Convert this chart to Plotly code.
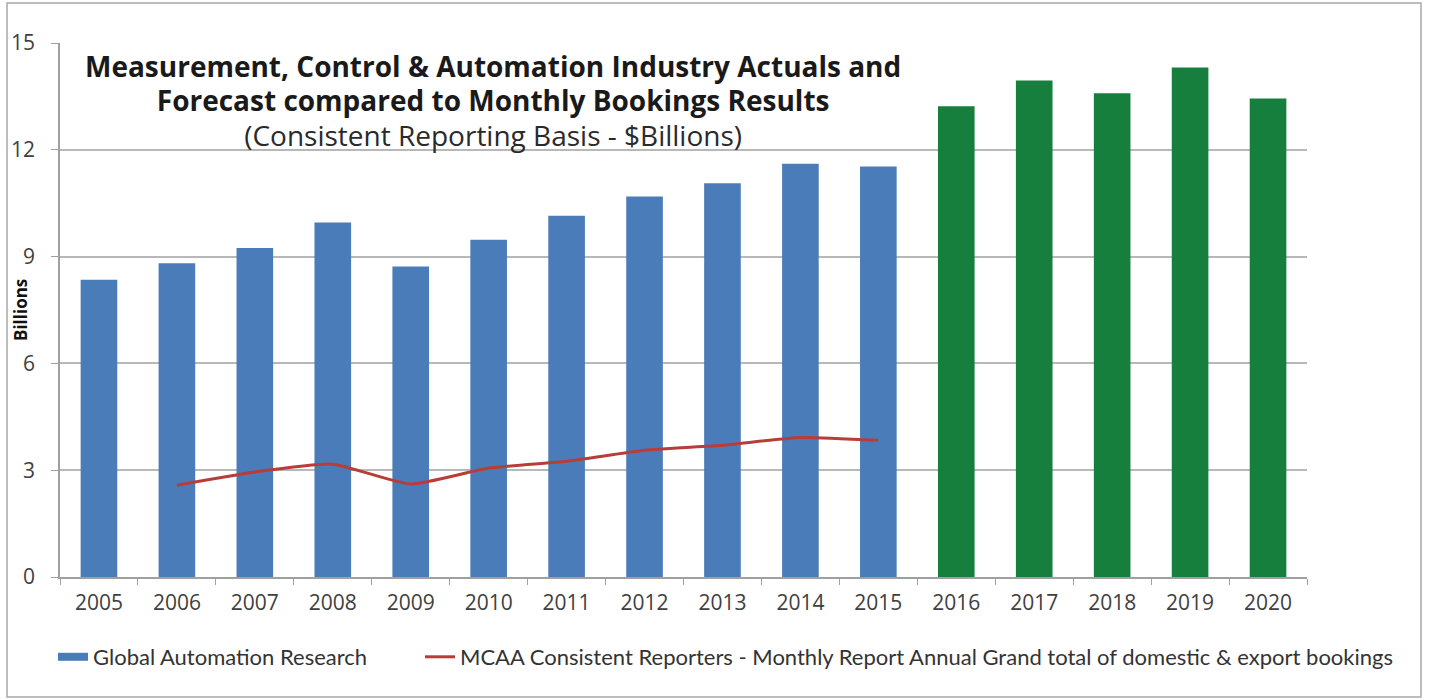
import plotly.graph_objects as go

# Annual market size (billions USD) - actuals and forecast
years_actual = ["2005", "2006", "2007", "2008", "2009", "2010", "2011",
                "2012", "2013", "2014", "2015"]
actual_values = [8.35, 8.81, 9.24, 9.96, 8.72, 9.47, 10.15, 10.69, 11.06, 11.61, 11.53]

years_forecast = ["2016", "2017", "2018", "2019", "2020"]
forecast_values = [13.22, 13.95, 13.59, 14.31, 13.44]

# MCAA consistent reporters - annual bookings
years_bookings = ["2006", "2007", "2008", "2009", "2010", "2011",
                  "2012", "2013", "2014", "2015"]
bookings_values = [2.58, 2.95, 3.17, 2.61, 3.06, 3.25, 3.56, 3.70, 3.92, 3.84]

all_years = years_actual + years_forecast
y_ticks = [0, 3, 6, 9, 12, 15]

BLUE = "#4A7CB9"
GREEN = "#167F3D"
RED = "#B83C38"
TEXT = "#404040"
GRID = "#B8B8B8"

fig = go.Figure()

fig.add_trace(go.Bar(
    x=years_actual, y=actual_values, name="Global Automation Research",
    marker=dict(color=BLUE, line=dict(width=0)), width=0.47,
    legendgroup="gar", showlegend=False,
))
# wide flat swatch for the bar series key
fig.add_trace(go.Scatter(
    x=[None], y=[None], mode="lines", name="Global Automation Research",
    line=dict(color=BLUE, width=8), legendgroup="gar", legend="legend",
))
fig.add_trace(go.Bar(
    x=years_forecast, y=forecast_values, name="Forecast",
    marker=dict(color=GREEN, line=dict(width=0)), width=0.47, showlegend=False,
))
fig.add_trace(go.Scatter(
    x=years_bookings, y=bookings_values, mode="lines",
    name="MCAA Consistent Reporters - Monthly Report Annual Grand total of domestic & export bookings",
    line=dict(color=RED, width=3, shape="spline", smoothing=0.5),
    legend="legend2",
))

L, R, T, B = 60, 122, 43, 123
W, H = 1429, 700
pw, ph = W - L - R, H - T - B


def px_x(px):
    return (px - L) / pw


def px_y(py):
    return (H - B - py) / ph


legend_font = dict(family="Lato", size=22, color="#333333")

title_text = (
    "<b><span style='font-size:28px'>Measurement, Control &amp; Automation Industry Actuals and</span></b><br>"
    "<b><span style='font-size:28px'>Forecast compared to Monthly Bookings Results</span></b><br>"
    "<span style='font-size:28px; color:#2A2A2A'>(Consistent Reporting Basis - $Billions)</span>"
)

fig.update_layout(
    width=W, height=H,
    margin=dict(l=L, r=R, t=T, b=B),
    paper_bgcolor="white", plot_bgcolor="white",
    barmode="overlay",
    font=dict(family="Open Sans", color=TEXT),
    showlegend=True,
    legend=dict(
        orientation="h", x=px_x(53), xanchor="left", y=px_y(657), yanchor="middle",
        font=legend_font, bgcolor="rgba(0,0,0,0)",
    ),
    legend2=dict(
        orientation="h", x=px_x(420), xanchor="left", y=px_y(657), yanchor="middle",
        font=legend_font, bgcolor="rgba(0,0,0,0)",
    ),
    xaxis=dict(
        type="category", categoryorder="array", categoryarray=all_years,
        tickson="boundaries", ticks="outside", ticklen=6, tickcolor="#A0A0A0",
        showline=True, linecolor="#A0A0A0", linewidth=1.5,
        showgrid=False, tickfont=dict(family="Open Sans", size=21, color=TEXT),
        ticklabelstandoff=6, automargin=False,
    ),
    yaxis=dict(
        range=[0, 15], tickvals=y_ticks, ticks="outside", ticklen=7, tickcolor="#A0A0A0",
        showline=True, linecolor="#A0A0A0", linewidth=1.5,
        showgrid=True, gridcolor=GRID, gridwidth=1.5, zeroline=False,
        tickfont=dict(family="Open Sans", size=21, color=TEXT),
        ticklabelstandoff=12,
    ),
    annotations=[
        dict(text=title_text,
             x=px_x(493), y=px_y(100), xref="paper", yref="paper", showarrow=False,
             xanchor="center", yanchor="middle", align="center",
             font=dict(family="Open Sans", size=26.5, color="#1A1A1A")),
        dict(text="<b>Billions</b>", textangle=-90,
             x=px_x(20), y=0.5, xref="paper", yref="paper", showarrow=False,
             xanchor="center", yanchor="middle",
             font=dict(family="Open Sans", size=17, color="#111111")),
    ],
    shapes=[
        dict(type="rect", xref="paper", yref="paper",
             x0=px_x(7), x1=px_x(1421), y0=px_y(697), y1=px_y(3),
             line=dict(color="#A8A8A8", width=1.5), fillcolor="rgba(0,0,0,0)", layer="below"),
    ],
)

fig.write_html("out.html")
